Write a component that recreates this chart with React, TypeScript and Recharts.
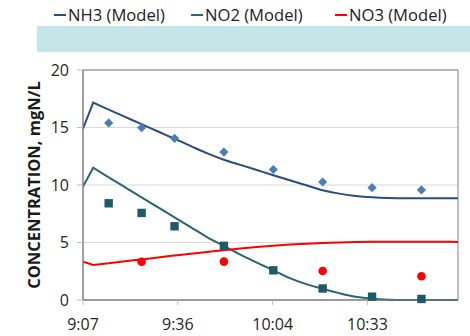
import React from "react";
import {
  ComposedChart, Line, Scatter, XAxis, YAxis, CartesianGrid, ReferenceArea
} from "recharts";

// time in minutes after midnight
const modelTimes = [547.2, 550.3, 555, 560, 565, 570, 575, 580, 585, 590, 595, 600, 605, 610, 615, 620, 625, 630, 635, 640, 645, 650, 655, 661.1];
const nh3Model = [14.9, 17.16, 16.55, 15.92, 15.29, 14.65, 14.02, 13.38, 12.75, 12.2, 11.75, 11.3, 10.85, 10.41, 9.98, 9.55, 9.25, 9.05, 8.93, 8.87, 8.85, 8.84, 8.84, 8.84];
const no2Model = [9.86, 11.5, 10.67, 9.8, 8.93, 8.06, 7.19, 6.32, 5.45, 4.7, 3.95, 3.25, 2.58, 1.9, 1.38, 0.98, 0.6, 0.28, 0.1, 0.02, 0, 0, 0, 0];
const no3Model = [3.33, 3.04, 3.2, 3.37, 3.53, 3.7, 3.86, 4.03, 4.18, 4.33, 4.47, 4.6, 4.72, 4.82, 4.9, 4.96, 5.01, 5.04, 5.06, 5.07, 5.07, 5.06, 5.06, 5.05];

const sampleTimes = [555, 565, 575, 590, 605, 620, 635, 650];
const nh3Obs = [15.4, 14.98, 14.06, 12.86, 11.35, 10.26, 9.77, 9.57];
const no2Obs = [8.41, 7.57, 6.41, 4.71, 2.58, 1.0, 0.29, 0.09];
const no3Times = [565, 590, 620, 650];
const no3Obs = [3.33, 3.34, 2.52, 2.06];

const xTicks = [547.2, 576, 604.8, 633.6];
const yTicks = [0, 5, 10, 15, 20];

const models = [
  { name: "NH3 (Model)", color: "#2B4C7E", values: nh3Model, legendLeft: 54 },
  { name: "NO2 (Model)", color: "#2B6475", values: no2Model, legendLeft: 191 },
  { name: "NO3 (Model)", color: "#FF0000", values: no3Model, legendLeft: 335 },
];

const toRows = (ts: number[], vs: number[]) => ts.map((t, i) => ({ t, v: vs[i] }));

const fmtTime = (m: number) => `${Math.floor(m / 60)}:${String(Math.floor(m % 60)).padStart(2, "0")}`;

const font = "'Open Sans', sans-serif";

const Diamond = (p: any) => {
  const { cx, cy } = p;
  const r = 4.6;
  return <polygon points={`${cx},${cy - r} ${cx + r},${cy} ${cx},${cy + r} ${cx - r},${cy}`} fill="#4A7DBA" />;
};
const Square = (p: any) => <rect x={p.cx - 4.2} y={p.cy - 4.2} width={8.4} height={8.4} fill="#1F5A68" />;
const Dot = (p: any) => <circle cx={p.cx} cy={p.cy} r={4.3} fill="#FF0000" />;

const LegendBox = () => (
  <div style={{ position: "absolute", left: 0, top: 0, width: 470, height: 60, fontFamily: font }}>
    {models.map((it) => (
      <div key={it.name} style={{ position: "absolute", left: it.legendLeft, top: 3, display: "flex", alignItems: "center", fontSize: 16.6, color: "#222", whiteSpace: "nowrap" }}>
        <span style={{ display: "inline-block", width: 12, height: 2, background: it.color, marginRight: 2 }} />
        {it.name}
      </div>
    ))}
    <div style={{ position: "absolute", left: 37, top: 26, width: 433, height: 26, background: "#C5E6E9" }} />
  </div>
);

export default function App() {
  // sharp start (linear) then smooth model curve (monotone)
  const lines = models.flatMap((m) => {
    const rows = toRows(modelTimes, m.values);
    return [
      <Line key={m.name + "a"} data={rows.slice(0, 3)} dataKey="v" type="linear" stroke={m.color} strokeWidth={2} dot={false} isAnimationActive={false} name={m.name} />,
      <Line key={m.name + "b"} data={rows.slice(2)} dataKey="v" type="monotone" stroke={m.color} strokeWidth={2} dot={false} isAnimationActive={false} name={m.name} />,
    ];
  });

  return (
    <div style={{ position: "fixed", left: 0, top: 0, width: 470, height: 336, background: "#fff" }}>
      <ComposedChart width={470} height={336} margin={{ top: 70, right: 12, bottom: 5, left: 0 }}>
        <CartesianGrid vertical={false} stroke="#D9D9D9" />
        <XAxis
          type="number"
          dataKey="t"
          domain={[547.2, 661.1]}
          ticks={xTicks}
          tickFormatter={fmtTime}
          allowDataOverflow
          height={31}
          tickSize={5}
          tickMargin={14}
          axisLine={{ stroke: "#808080" }}
          tickLine={{ stroke: "#BFBFBF" }}
          tick={{ fill: "#262626", fontSize: 16, fontFamily: font }}
        />
        <YAxis
          type="number"
          domain={[0, 20]}
          ticks={yTicks}
          width={83}
          tickSize={6}
          tickMargin={8}
          axisLine={{ stroke: "#808080" }}
          tickLine={{ stroke: "#BFBFBF" }}
          tick={{ fill: "#262626", fontSize: 16, fontFamily: font }}
          label={{
            value: "CONCENTRATION, mgN/L",
            angle: -90,
            position: "insideLeft",
            offset: 34,
            style: { textAnchor: "middle", fontSize: 16.5, fontWeight: 700, fill: "#1a1a1a", fontFamily: font },
          }}
        />
        <ReferenceArea x1={547.2} x2={661.1} y1={0} y2={20} fill="none" stroke="#808080" strokeWidth={1} />
        {lines}
        <Scatter data={toRows(sampleTimes, nh3Obs)} dataKey="v" shape={Diamond} isAnimationActive={false} />
        <Scatter data={toRows(sampleTimes, no2Obs)} dataKey="v" shape={Square} isAnimationActive={false} />
        <Scatter data={toRows(no3Times, no3Obs)} dataKey="v" shape={Dot} isAnimationActive={false} />
      </ComposedChart>
      <LegendBox />
    </div>
  );
}
